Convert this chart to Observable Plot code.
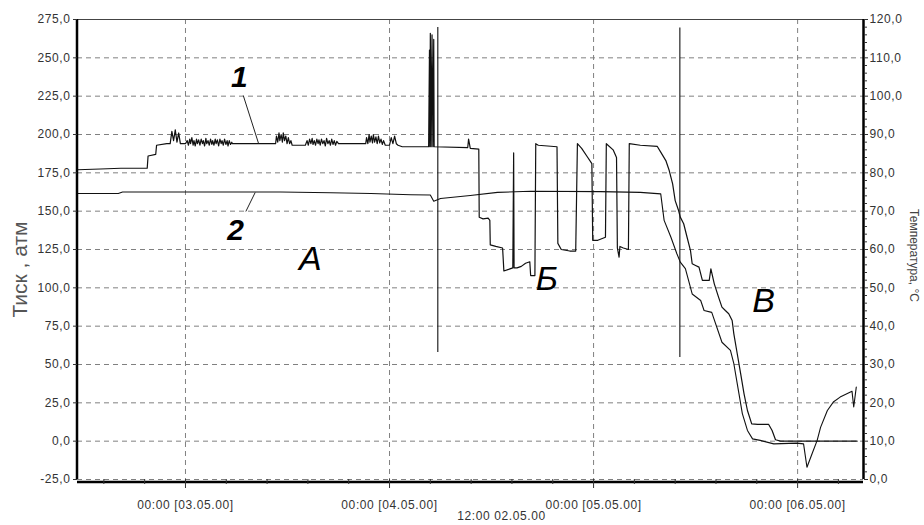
<!DOCTYPE html>
<html>
<head>
<meta charset="utf-8">
<script src="https://cdn.jsdelivr.net/npm/d3@7"></script>
<script src="https://cdn.jsdelivr.net/npm/@observablehq/plot@0.6"></script>
<style>
  html, body { margin: 0; padding: 0; background: #fff; }
  #chart { width: 924px; height: 525px; }
  .ticklbl text { letter-spacing: 0.6px; }
</style>
</head>
<body>
<div id="chart"></div>
<script>
// hours since 00:00 02.05.00
const xDomain = [11.3, 103.75];
const pressureTicks = [-25, 0, 25, 50, 75, 100, 125, 150, 175, 200, 225, 250, 275];
const tempTicks = [0, 10, 20, 30, 40, 50, 60, 70, 80, 90, 100, 110, 120];
const dayTicks = [24, 48, 72, 96];
const startLabel = "12:00 02.05.00";

// Series 1: pressure, atm [hour, value]
const pressure = [
  [11.3,177],[14,177.5],[16.4,178],[19.5,178],[19.6,186],[20.5,187],[20.6,193],[21.8,194],[22.2,194],
  [22.4,202],[22.6,196],[22.8,203],[23.0,195],[23.2,201],[23.4,194],[24.0,194],
  [24.2,196],[24.35,193],[24.5,197],[24.6,194],[24.75,198],[24.9,193],[25.0,196],[25.15,192.5],[25.3,197],
  [25.4,194],[25.55,196.5],[25.7,193],[25.85,197],[26.0,194],[26.1,196],[26.25,192.5],[26.4,197.5],[26.5,194],
  [26.65,196],[26.8,193],[26.95,197],[27.1,193.5],[27.2,196],[27.35,193],[27.5,197],[27.6,194],[27.75,196.5],
  [27.9,192.5],[28.05,197],[28.2,194],[28.3,196],[28.45,193],[28.6,197],[28.75,193.5],[28.9,196],[29.0,192.5],
  [29.15,196],[29.3,193.5],[29.45,195],[29.5,194],[34.6,194],
  [34.7,199],[34.85,195],[35.0,201],[35.1,196],[35.25,200],[35.4,195],[35.5,201],[35.65,196],[35.8,199],
  [35.95,194],[36.1,198],[36.25,194],[36.4,196],[36.55,193],[38.1,193],
  [38.3,196],[38.45,193],[38.6,197],[38.75,194],[38.9,197.5],[39.0,193.5],[39.15,196],[39.3,193],[39.45,197],
  [39.6,194],[39.7,196.5],[39.85,193],[40.0,197],[40.15,194],[40.3,196],[40.45,192.5],[40.6,197.5],[40.75,194],
  [40.9,196],[41.05,193],[41.2,197],[41.35,193.5],[41.5,196],[41.65,193],[41.8,195.5],[42.0,194],[45.2,194],
  [45.3,198],[45.45,194],[45.6,200],[45.7,195],[45.85,199],[46.0,194.5],[46.1,200],[46.25,195],[46.4,198.5],
  [46.55,194],[46.7,199],[46.85,194.5],[47.0,197],[47.15,193.5],[47.3,196],[47.5,193],
  [48.0,193],[48.2,198],[48.4,194],[48.6,199],[48.8,194],[49.0,193],[49.5,192],[52.6,192],
  [52.7,255],[52.75,192],[52.8,266],[52.9,192],[53.0,265],[53.1,192],[53.2,262],[53.25,192],
  [57.2,191.5],[57.3,197],[57.5,191],[58.5,190.5],
  [58.55,146],[59.0,145],[59.6,145.5],[59.8,144],
  [59.85,128],[60.5,127],[61.3,126],
  [61.45,111],[62.0,112],[62.5,113],[62.6,188],[62.65,113],[63.0,113],[63.5,114],[64.0,116],[64.5,117],
  [64.6,108],[65.1,108],[65.2,194],[65.5,193],[67.7,192],
  [67.8,129],[68.2,125],[69.2,124],[69.9,124],
  [70.1,194],[70.6,191],[71.2,186],[71.8,181],
  [71.9,131],[72.5,131],[73.4,133],
  [73.5,194],[74.3,190],[74.7,185],
  [74.8,126],[75.0,120],[75.1,127],[75.5,126],[76.1,125],
  [76.2,194],[77.5,193],[79.5,192.2],
  [79.9,188.5],[80.5,183.0],[80.9,176.5],[81.3,167.8],[81.6,156.9],[82.0,150.4],[82.2,146.1],
  [82.6,141.8],[83.0,133.0],[83.4,124.3],[83.6,115.7],[84.0,114.6],[84.4,113.5],[84.8,104.8],
  [85.6,104.8],[85.8,112.4],[86.2,102.6],[86.7,93.9],[87.1,87.4],[87.5,85.2],[87.9,83.1],
  [88.3,78.7],[88.5,70.0],[88.9,57.0],[89.3,44.0],[89.7,30.9],[90.1,20.0],[90.6,11.3],
  [91.3,10.9],[92.6,10.9],[93.0,7.0],[93.4,0.9],[94.0,0],[103.0,0]
];

// Series 2: temperature, °C [hour, value]
const temperature = [
  [11.3,74.6],[16.1,74.6],[16.6,75.0],[35.2,75.0],[41.1,74.8],[45.8,74.6],[50.5,74.3],[52.8,74.2],
  [53.2,72.6],[54.0,73.3],[57.5,74.1],[60.7,74.9],[64.6,75.2],[72.8,75.1],[77.5,74.9],[79.9,74.5],
  [80.3,67.6],[81.1,63.2],[81.8,58.9],[82.2,56.7],[82.8,55.0],[83.6,48.4],[84.6,46.7],[85.0,44.1],
  [85.9,43.6],[87.1,35.8],[88.1,33.7],[88.5,30.2],[89.1,22.4],[89.5,17.2],[90.1,12.8],[90.7,10.6],
  [91.6,10.2],[93.2,9.3],[95.9,9.5],[96.7,9.3],[97.1,3.2],[97.7,6.7],[98.3,10.2],[98.7,13.6],
  [99.5,18.0],[100.2,20.2],[101.0,21.5],[102.4,23.0],[102.6,18.9],[102.9,24.1]
];

// Event markers [hour, from, to] in atm
const events = [[53.68, 57.8, 269.8], [82.15, 54.6, 269.5]];

// Annotations
const curveLabels = [{h: 30.35, v: 237, t: "1"}, {h: 29.9, v: 137.5, t: "2"}];
const leaders = [{h1: 30.8, v1: 225.4, h2: 32.6, v2: 194.1}, {h1: 32.2, v1: 162.2, h2: 31.1, v2: 149.8}];
const zoneLabels = [{h: 38.7, v: 118.5, t: "А"}, {h: 66.5, v: 105.4, t: "Б"}, {h: 92.0, v: 91.1, t: "В"}];

const tempToAtm = t => t * 2.5 - 25;
const atmToTemp = v => (v + 25) * 0.4;
const fmt = v => v.toFixed(1).replace(".", ",");
const pad2 = n => String(n).padStart(2, "0");

const minorX = d3.range(0, 22).map(i => 4.8 * i).filter(h => h >= xDomain[0] && h <= xDomain[1] && Math.abs(h / 24 - Math.round(h / 24)) > 0.01);
const minorT = d3.range(0, 121, 2).filter(t => t % 10 !== 0).map(tempToAtm);

const chart = Plot.plot({
  width: 924,
  height: 525,
  marginLeft: 77,
  marginRight: 61,
  marginTop: 19,
  marginBottom: 46,
  style: {fontFamily: "'Liberation Sans', Arial, sans-serif", fontSize: "12px", background: "#fff", color: "#333"},
  x: {domain: xDomain},
  y: {domain: [-25, 275]},
  marks: [
    Plot.gridY(pressureTicks.filter(d => d < 275), {stroke: "#808080", strokeOpacity: 1, strokeDasharray: "5,4"}),
    Plot.gridX(dayTicks, {stroke: "#808080", strokeOpacity: 1, strokeDasharray: "5,4"}),
    Plot.ruleY([275], {stroke: "#444", strokeWidth: 1}),
    Plot.ruleX(events, {x: d => d[0], y1: d => d[1], y2: d => d[2], stroke: "#111", strokeWidth: 1.1}),
    Plot.line(temperature, {x: d => d[0], y: d => tempToAtm(d[1]), stroke: "#111", strokeWidth: 1.1}),
    Plot.line(pressure, {x: d => d[0], y: d => d[1], stroke: "#111", strokeWidth: 1.2}),
    Plot.link(leaders, {x1: "h1", y1: "v1", x2: "h2", y2: "v2", stroke: "#222", strokeWidth: 1}),
    Plot.text(curveLabels, {x: "h", y: "v", text: "t", fontSize: 30, fontWeight: "bold", fontStyle: "italic", fill: "#000", textAnchor: "middle", lineAnchor: "middle"}),
    Plot.text(zoneLabels, {x: "h", y: "v", text: "t", fontSize: 34, fontStyle: "italic", fill: "#000", textAnchor: "middle", lineAnchor: "middle"}),
    // axes lines
    Plot.ruleX([xDomain[0]], {stroke: "#000", strokeWidth: 2.5, dx: -0.5}),
    Plot.ruleX([xDomain[1]], {stroke: "#000", strokeWidth: 2.5}),
    Plot.ruleY([-25], {stroke: "#000", strokeWidth: 2.5, dy: 2.5}),
    Plot.axisY(pressureTicks, {anchor: "left", tickSize: 4, tickPadding: 3, tickFormat: fmt, label: null, fill: "#333", fontSize: 12, className: "ticklbl"}),
    Plot.axisY(pressureTicks, {anchor: "right", tickSize: 4, tickPadding: 2, tickFormat: v => fmt(atmToTemp(v)), label: null, fill: "#333", fontSize: 12, className: "ticklbl"}),
    Plot.axisY(minorT, {anchor: "right", tickSize: 3, tickFormat: () => "", label: null}),
    Plot.axisX(dayTicks, {anchor: "bottom", tickSize: 9, tickPadding: 12, tickFormat: h => `00:00 [${pad2(2 + h / 24)}.05.00]`, label: null, fill: "#333", fontSize: 12, className: "ticklbl"}),
    Plot.axisX(minorX, {anchor: "bottom", tickSize: 5, tickFormat: () => "", label: null}),
    Plot.text([startLabel], {frameAnchor: "bottom", text: d => d, dy: 37, dx: 31, fontSize: 12, fill: "#333", lineAnchor: "middle", className: "ticklbl"}),
    Plot.text(["Тиск , атм"], {frameAnchor: "left", text: d => d, textAnchor: "middle", rotate: -90, dx: -57, dy: 20, fontSize: 21, fill: "#555"}),
    Plot.text(["Температура, °С"], {frameAnchor: "right", text: d => d, textAnchor: "middle", rotate: 90, dx: 50, dy: 6, fontSize: 12, fill: "#444"})
  ]
});
document.getElementById("chart").appendChild(chart);
</script>
</body>
</html>
